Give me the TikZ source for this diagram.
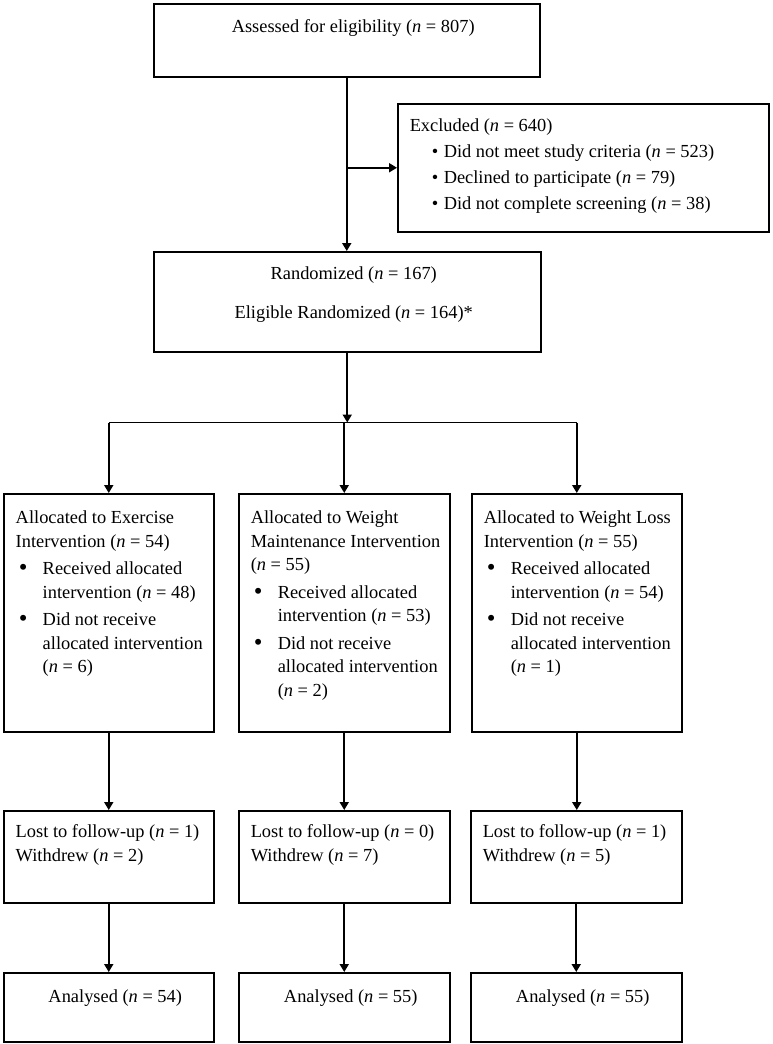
\documentclass[tikz,border=0pt]{standalone}
\usepackage{fontspec}
\usepackage{graphicx}
\setmainfont{Liberation Serif}
\usetikzlibrary{arrows.meta}
\newcommand{\boxtext}[4]{\parbox[c][#2pt][t]{#1pt}{\fontsize{18.4}{23.5}\selectfont
  \parindent=0pt\leftskip=12pt\rightskip=0pt plus 1fil\rule{0pt}{#3pt}#4}}
\newcommand{\midtext}[4]{\parbox[c][#2pt][t]{#1pt}{\fontsize{18.4}{23.5}\selectfont
  \parindent=0pt\leftskip=13pt plus 1fil\rightskip=0pt plus 1fil\parfillskip=0pt\rule{0pt}{#3pt}#4}}
\newcommand{\bitem}[1]{\par\vskip4pt\hangindent=27pt\hangafter=1%
  \makebox[27pt][l]{\hspace{3pt}\raisebox{-1.2pt}{\scalebox{1.35}{\textbullet}}}#1}
\newcommand{\xitem}[1]{\par\vskip2pt\makebox[34pt][l]{\hspace{22pt}\textbullet}#1}
\newcommand{\nn}[1]{(\textit{n} = #1)}

\begin{document}
\begin{tikzpicture}[x=1pt,y=-1pt,
    box/.style={draw,line width=1.5pt,inner sep=0pt,anchor=north west},
    arr/.style={line width=1.8pt,-{Triangle[length=8pt,width=9pt]}},
    line/.style={line width=1.8pt}]
    \useasboundingbox (0,0) rectangle (772,1044);

    \node[box] (assess) at (153,3) {\midtext{386}{73}{29}{Assessed for eligibility \nn{807}}};
    \node[box] (excl) at (397,103) {\boxtext{371}{128}{28}{\baselineskip=24pt Excluded \nn{640}
      \xitem{Did not meet study criteria \nn{523}}
      \xitem{Declined to participate \nn{79}}
      \xitem{Did not complete screening \nn{38}}}};
    \node[box] (rand) at (153,251) {\midtext{387}{100}{28}{Randomized \nn{167}\par\vskip15.5pt
      Eligible Randomized \nn{164}*}};

    \node[box] (alloc1) at (3,493) {\boxtext{210}{238}{30}{Allocated to Exercise\\Intervention \nn{54}
      \bitem{Received allocated\\intervention \nn{48}}
      \bitem{Did not receive\\allocated intervention\\\nn{6}}}};
    \node[box] (alloc2) at (238,493) {\boxtext{211}{238}{30}{Allocated to Weight\\Maintenance Intervention\\\nn{55}
      \bitem{Received allocated\\intervention \nn{53}}
      \bitem{Did not receive\\allocated intervention\\\nn{2}}}};
    \node[box] (alloc3) at (471,493) {\boxtext{210}{238}{30}{Allocated to Weight Loss\\Intervention \nn{55}
      \bitem{Received allocated\\intervention \nn{54}}
      \bitem{Did not receive\\allocated intervention\\\nn{1}}}};

    \node[box] (lost1) at (3,810) {\boxtext{210}{92}{27}{Lost to follow-up \nn{1}\\Withdrew \nn{2}}};
    \node[box] (lost2) at (238,810) {\boxtext{211}{92}{27}{Lost to follow-up \nn{0}\\Withdrew \nn{7}}};
    \node[box] (lost3) at (470,810) {\boxtext{211}{92}{27}{Lost to follow-up \nn{1}\\Withdrew \nn{5}}};

    \node[box] (anal1) at (3,972) {\midtext{210}{69}{30}{Analysed \nn{54}}};
    \node[box] (anal2) at (238,972) {\midtext{211}{69}{30}{Analysed \nn{55}}};
    \node[box] (anal3) at (470,972) {\midtext{211}{69}{30}{Analysed \nn{55}}};

    \draw[arr] (assess.south) -- (assess.south |- rand.north);
    \draw[arr] (assess.south |- excl.west) -- (excl.west);
    \coordinate (split) at ([yshift=-70pt]rand.south);
    \draw[arr] (rand.south) -- (split);
    \draw[line] (alloc1.north |- split) -- (alloc3.north |- split);
    \foreach \i in {1,2,3} {
      \draw[arr] (alloc\i.north |- split) -- (alloc\i.north);
      \draw[arr] (alloc\i.south) -- (alloc\i.south |- lost\i.north);
      \draw[arr] (lost\i.south) -- (lost\i.south |- anal\i.north);
    }
\end{tikzpicture}
\end{document}
